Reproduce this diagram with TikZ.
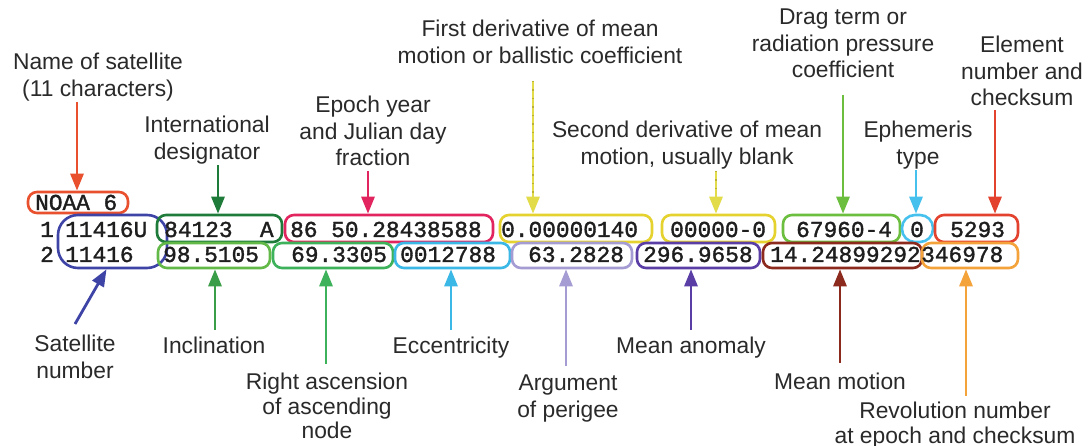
\documentclass[tikz,border=0pt]{standalone}
\usepackage{fontspec}
\setmainfont{Liberation Sans}
\newfontfamily\monof[FakeBold=1.5]{Liberation Mono}
\usetikzlibrary{arrows.meta,calc}

\definecolor{cNoaa}{HTML}{E8502E}
\definecolor{cSat}{HTML}{3E44A6}
\definecolor{cIntl}{HTML}{1E7B3A}
\definecolor{cIncl}{HTML}{62B948}
\definecolor{cInclA}{HTML}{3A9E48}
\definecolor{cEpoch}{HTML}{E2255F}
\definecolor{cRA}{HTML}{3DB25B}
\definecolor{cEcc}{HTML}{3CB8E6}
\definecolor{cYel}{HTML}{E5D22E}
\definecolor{cYelA}{HTML}{E2DC4A}
\definecolor{cYelD}{HTML}{B9B232}
\definecolor{cArg}{HTML}{A49CD2}
\definecolor{cAnom}{HTML}{5A3EA6}
\definecolor{cDrag}{HTML}{6CBE3E}
\definecolor{cMM}{HTML}{8C2A1E}
\definecolor{cEph}{HTML}{46C1EE}
\definecolor{cElem}{HTML}{E3432E}
\definecolor{cRev}{HTML}{F4A23A}
\definecolor{txt}{HTML}{2A2A2A}
\definecolor{mtxt}{HTML}{1E1E1E}

\begin{document}
\begin{tikzpicture}[x=1pt,y=-1pt,
 lbl/.style={font=\fontsize{22.8}{26.5}\selectfont, align=center, inner sep=0pt, anchor=north, text=txt},
 lblt/.style={lbl, font=\fontsize{22.8}{24.5}\selectfont},
 mono/.style={font=\monof\fontsize{22.8}{26}\selectfont, inner sep=0pt, anchor=base west, text=mtxt},
 fbox/.style={draw=#1, line width=2.6pt, rounded corners=9pt, minimum height=27pt, inner sep=0pt},
 fboxb/.style={fbox=#1, minimum height=25pt},
 arr/.style={draw=#1, line width=2.8pt, -{Triangle[length=17pt,width=13pt]}},
 dots/.style={draw=cYelD, line width=1.4pt, dash pattern=on 1.5pt off 7pt},
]
\fill[white] (0,0) rectangle (1088,446);
\useasboundingbox (0,0) rectangle (1088,446);

% ---------- boxes ----------
\node[fbox=cNoaa, minimum width=100pt, minimum height=21pt] (bNoaa) at (78,202.5) {};
\node[draw=cSat, line width=2.6pt, rounded corners=20pt, minimum width=109pt, minimum height=53pt, inner sep=0pt] (bSat) at (112.5,241.5) {};
% row 1
\node[fbox=cIntl,  minimum width=125pt] (bIntl)  at (219.5,228.5) {};
\node[fbox=cEpoch, minimum width=208pt] (bEpoch) at (389,228.5) {};
\node[fbox=cYel,   minimum width=152pt] (bFirst) at (576,228.5) {};
\node[fbox=cYel,   minimum width=113pt] (bSecond) at (718.5,228.5) {};
\node[fbox=cDrag,  minimum width=117pt] (bDrag)  at (841.5,228.5) {};
\node[fbox=cEph,   minimum width=31pt, rounded corners=13pt] (bEph) at (917.5,228.5) {};
\node[fbox=cElem,  minimum width=83pt]  (bElem)  at (976.5,228.5) {};
% row 2
\node[fboxb=cIncl,  minimum width=112pt] (bIncl) at (214,255.5) {};
\node[fboxb=cRA,    minimum width=120pt] (bRA)   at (333,255.5) {};
\node[fboxb=cEcc,   minimum width=115pt] (bEcc)  at (452.5,255.5) {};
\node[fboxb=cArg,   minimum width=120pt] (bArg)  at (572,255.5) {};
\node[fboxb=cAnom,  minimum width=123pt] (bAnom) at (698.5,255.5) {};
\node[fboxb=cMM,    minimum width=159pt] (bMM)   at (842.5,255.5) {};
\node[fboxb=cRev,   minimum width=96pt]  (bRev)  at (970,255.5) {};

% ---------- element text ----------
\node[mono] (tNoaa) at (35,210) {NOAA 6};
\node[mono] (tL1) at (40,237) {1};
\node[mono] (tSat1) at (65,237) {11416U};
\node[mono] (tIntl) at (164,237) {84123\ \ A};
\node[mono] (tEpoch) at (290,237) {86 50.28438588};
\node[mono] (tFirst) at (501,237) {0.00000140};
\node[mono] (tSecond) at (670,237) {00000-0};
\node[mono] (tDrag) at (796,237) {67960-4};
\node[mono] (tEph) at (910,237) {0};
\node[mono] (tElem) at (950,237) {5293};
\node[mono] (tL2) at (40,262) {2};
\node[mono] (tSat2) at (65,262) {11416};
\node[mono] (tIncl) at (163,262) {98.5105};
\node[mono] (tRA) at (291,262) {69.3305};
\node[mono] (tEcc) at (400,262) {0012788};
\node[mono] (tArg) at (528,262) {63.2828};
\node[mono] (tAnom) at (643,262) {296.9658};
\node[mono] (tMM) at (770,262) {14.24899292};
\node[mono] (tRev) at (921,262) {346978};

% ---------- labels ----------
\node[lbl] (lName) at (98,53) {Name of satellite\\(11 characters)};
\node[lbl] (lIntl) at (207,116) {International\\designator};
\node[lbl] (lEpoch) at (373,96) {Epoch year\\and Julian day\\fraction};
\node[lbl] (lFirst) at (540,20) {First derivative of mean\\motion or ballistic coefficient};
\node[lbl] (lSecond) at (687,121) {Second derivative of mean\\motion, usually blank};
\node[lbl] (lDrag) at (843,9) {Drag term or\\radiation pressure\\coefficient};
\node[lbl] (lEph) at (918,121) {Ephemeris\\type};
\node[lbl] (lElem) at (1022,36) {Element\\number and\\checksum};
\node[lbl] (lSat) at (75,335) {Satellite\\number};
\node[lbl] (lIncl) at (214,337) {Inclination};
\node[lblt] (lRA) at (327,373) {Right ascension\\of ascending\\node};
\node[lbl] (lEcc) at (451,337) {Eccentricity};
\node[lbl] (lArg) at (568,375) {Argument\\of perigee};
\node[lbl] (lAnom) at (691,337) {Mean anomaly};
\node[lbl] (lMM) at (840,373) {Mean motion};
\node[lblt] (lRev) at (955,402) {Revolution number\\at epoch and checksum};

% ---------- arrow start points ----------
\coordinate (sName) at (77,102);
\coordinate (sIntl) at (218,165);
\coordinate (sEpoch) at (368,171);
\coordinate (sFirst) at (533,81);
\coordinate (sSecond) at (716,171);
\coordinate (sDrag) at (843,95);
\coordinate (sEph) at (916,170);
\coordinate (sElem) at (995,110);
\coordinate (sSat) at (75,324);
\coordinate (sIncl) at (215,330);
\coordinate (sRA) at (326,364);
\coordinate (sEcc) at (451,330);
\coordinate (sArg) at (566,366);
\coordinate (sAnom) at (691,330);
\coordinate (sMM) at (840,363);
\coordinate (sRev) at (966,396);

% ---------- arrows ----------
\draw[arr=cNoaa] (sName) -- (sName |- bNoaa.north);
\draw[arr=cIntl] (sIntl) -- (sIntl |- bIntl.north);
\draw[arr=cEpoch] (sEpoch) -- (sEpoch |- bEpoch.north);
\draw[arr=cYelA] (sFirst) -- (sFirst |- bFirst.north);
\draw[dots] (sFirst) -- ($(sFirst |- bFirst.north)+(0,-18)$);
\draw[arr=cYelA] (sSecond) -- (sSecond |- bSecond.north);
\draw[dots] (sSecond) -- ($(sSecond |- bSecond.north)+(0,-18)$);
\draw[arr=cDrag] (sDrag) -- (sDrag |- bDrag.north);
\draw[arr=cEph] (sEph) -- (sEph |- bEph.north);
\draw[arr=cElem] (sElem) -- (sElem |- bElem.north);
\draw[arr=cSat] (sSat) -- ($(bSat.south)+(-6,0)$);
\draw[arr=cInclA] (sIncl) -- (sIncl |- bIncl.south);
\draw[arr=cRA] (sRA) -- (sRA |- bRA.south);
\draw[arr=cEcc] (sEcc) -- (sEcc |- bEcc.south);
\draw[arr=cArg] (sArg) -- (sArg |- bArg.south);
\draw[arr=cAnom] (sAnom) -- (sAnom |- bAnom.south);
\draw[arr=cMM] (sMM) -- (sMM |- bMM.south);
\draw[arr=cRev] (sRev) -- (sRev |- bRev.south);
\end{tikzpicture}
\end{document}
